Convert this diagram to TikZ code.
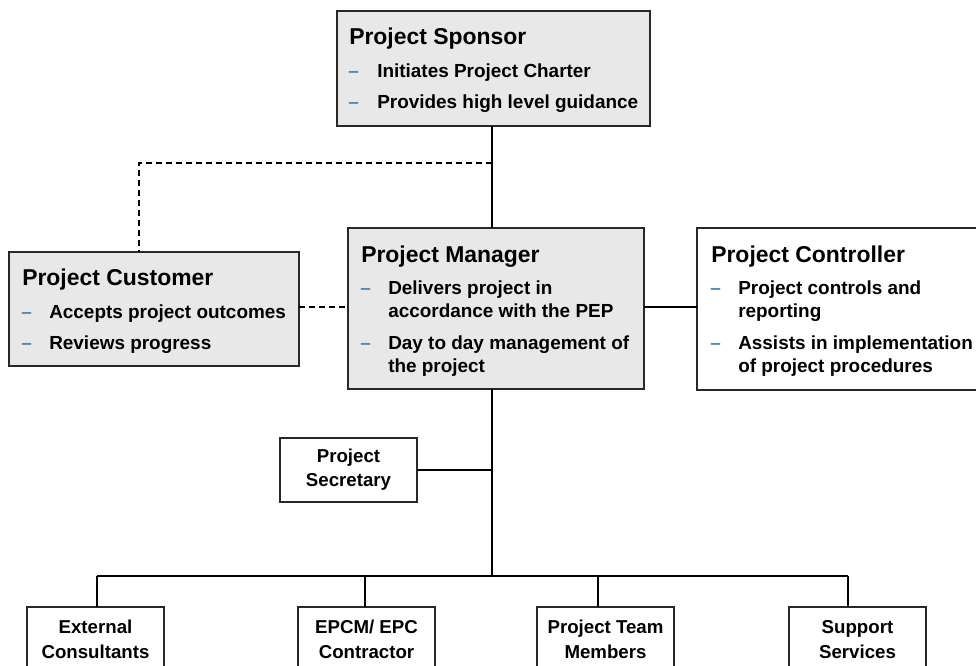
\documentclass[tikz,border=0pt]{standalone}
\usepackage{fontspec}
\setmainfont{Liberation Sans}
\definecolor{boxfill}{RGB}{232,232,232}
\definecolor{boxline}{RGB}{40,40,40}
\definecolor{dashblue}{RGB}{80,138,184}
\begin{document}
\begin{tikzpicture}[x=0.75pt,y=-0.75pt,
  box/.style={draw=boxline,line width=1.2pt,inner sep=0pt,outer sep=0pt,rectangle},
  shaded/.style={box,fill=boxfill},
  plain/.style={box,fill=white},
  title/.style={anchor=base west,inner sep=0pt,font=\fontsize{17.2}{20}\selectfont\bfseries},
  item/.style={anchor=base west,inner sep=0pt,font=\fontsize{14.2}{17}\selectfont\bfseries},
  bul/.style={anchor=base west,inner sep=0pt,text=dashblue,font=\fontsize{14.2}{17}\selectfont\bfseries},
  lbl/.style={anchor=base,inner sep=0pt,font=\fontsize{14}{17}\selectfont\bfseries},
  link/.style={line width=1.1pt,black},
  dlink/.style={line width=1.5pt,black,dash pattern=on 4.5pt off 3pt}]
\clip (0,0) rectangle (976,666);
\fill[white] (0,0) rectangle (976,666);

% ---- boxes ----
\node[shaded,minimum width=234.75pt,minimum height=86.25pt] (sponsor) at (493.5,68.5) {};
\node[shaded,minimum width=217.5pt,minimum height=85.5pt] (cust) at (154,309) {};
\node[shaded,minimum width=222pt,minimum height=120.75pt] (mgr) at (496,308.5) {};
\node[plain,minimum width=219.75pt,minimum height=121.5pt] (ctrl) at (843.5,309) {};
\node[plain,minimum width=102.75pt,minimum height=48pt] (sec) at (348.5,470) {};
\node[plain,minimum width=102.75pt,minimum height=66pt] (ext) at (95.5,651) {};
\node[plain,minimum width=102.75pt,minimum height=66pt] (epc) at (366.5,651) {};
\node[plain,minimum width=102.75pt,minimum height=66pt] (team) at (605.5,651) {};
\node[plain,minimum width=102.75pt,minimum height=66pt] (supp) at (857.5,651) {};

% ---- sponsor text ----
\node[title] (spT) at (349,45) {Project Sponsor};
\node[bul] (spD1) at (348,78) {\textendash};
\node[item] (spI1) at (377,78) {Initiates Project Charter};
\node[bul] (spD2) at (348,109) {\textendash};
\node[item] (spI2) at (377,109) {Provides high level guidance};

% ---- customer text ----
\node[title] (cuT) at (22,286) {Project Customer};
\node[bul] (cuD1) at (21,319) {\textendash};
\node[item] (cuI1) at (49,319) {Accepts project outcomes};
\node[bul] (cuD2) at (21,350) {\textendash};
\node[item] (cuI2) at (49,350) {Reviews progress};

% ---- manager text ----
\node[title] (mgT) at (361,263) {Project Manager};
\node[bul] (mgD1) at (360,295) {\textendash};
\node[item] (mgI1a) at (388,295) {Delivers project in};
\node[item] (mgI1b) at (388,318) {accordance with the PEP};
\node[bul] (mgD2) at (360,350) {\textendash};
\node[item] (mgI2a) at (388,350) {Day to day management of};
\node[item] (mgI2b) at (388,373) {the project};

% ---- controller text ----
\node[title] (ctT) at (711,263) {Project Controller};
\node[bul] (ctD1) at (710,295) {\textendash};
\node[item] (ctI1a) at (738,295) {Project controls and};
\node[item] (ctI1b) at (738,318) {reporting};
\node[bul] (ctD2) at (710,350) {\textendash};
\node[item] (ctI2a) at (738,350) {Assists in implementation};
\node[item] (ctI2b) at (738,373) {of project procedures};

% ---- small box labels ----
\node[lbl] (secA) at (348.5,463) {Project};
\node[lbl] (secB) at (348.5,487) {Secretary};
\node[lbl] (extA) at (95.5,634) {External};
\node[lbl] (extB) at (95.5,659) {Consultants};
\node[lbl] (epcA) at (366.5,634) {EPCM/ EPC};
\node[lbl] (epcB) at (366.5,659) {Contractor};
\node[lbl] (teamA) at (605.5,634) {Project Team};
\node[lbl] (teamB) at (605.5,659) {Members};
\node[lbl] (suppA) at (857.5,634) {Support};
\node[lbl] (suppB) at (857.5,659) {Services};

% ---- junction points ----
\coordinate (spj) at (492,163);
\coordinate (cuj) at (139,163);
\coordinate (mid) at (0,307);
\coordinate (secj) at (492,470);
\coordinate (bus) at (492,576);
\coordinate (busL) at (97,576);
\coordinate (busR) at (848,576);
\coordinate (dEpc) at (365,576);
\coordinate (dTeam) at (598,576);

% ---- connectors ----
\draw[link] (sponsor.south -| spj) -- (mgr.north -| spj);
\draw[dlink] (spj) -- (cuj) -- (cuj |- cust.north);
\draw[dlink] (cust.east |- mid) -- (mgr.west |- mid);
\draw[link] (mgr.east |- mid) -- (ctrl.west |- mid);
\draw[link] (mgr.south -| bus) -- (bus);
\draw[link] (sec.east |- secj) -- (secj);
\draw[link] (busL) -- (busR);
\draw[link] (busL) -- (busL |- ext.north);
\draw[link] (dEpc) -- (dEpc |- epc.north);
\draw[link] (dTeam) -- (dTeam |- team.north);
\draw[link] (busR) -- (busR |- supp.north);
\end{tikzpicture}
\end{document}
